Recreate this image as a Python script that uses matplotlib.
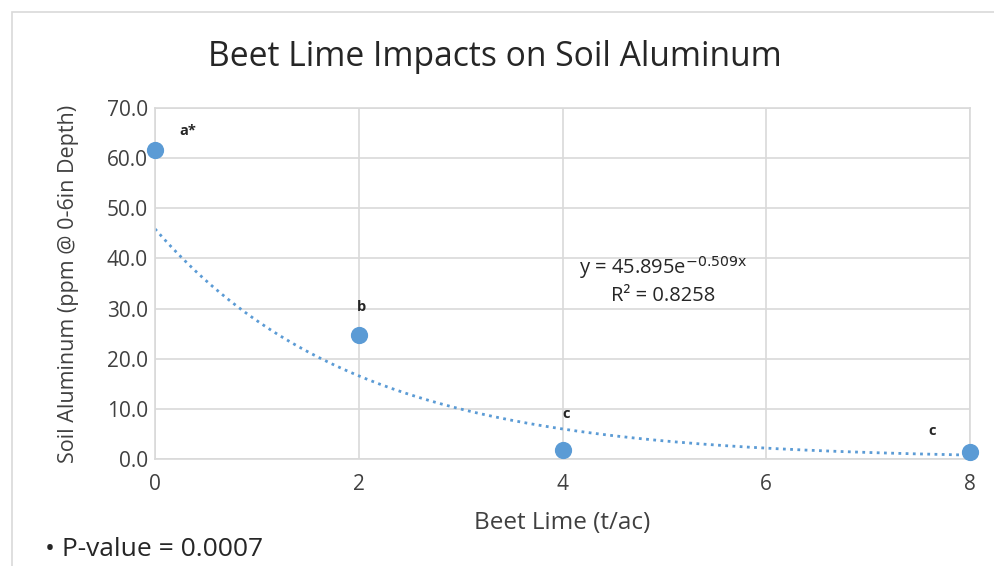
import numpy as np
import matplotlib
matplotlib.use("Agg")
import matplotlib.pyplot as plt
from matplotlib.patches import Rectangle

plt.rcParams['font.family'] = ['Open Sans', 'DejaVu Sans']

lime = [0, 2, 4, 8]
aluminum = [61.7, 24.7, 1.8, 1.3]
letters = ["a*", "b", "c", "c"]
letter_x = [0.32, 2.03, 4.04, 7.63]
letter_y = [65.4, 30.3, 8.9, 5.5]
coef_a = 45.895
coef_b = -0.509
r2 = 0.8258
xticks = [0, 2, 4, 6, 8]
yticks = [0, 10, 20, 30, 40, 50, 60, 70]

fig = plt.figure(figsize=(9.94, 5.66), dpi=100)
fig.patches.append(Rectangle((12/994, -0.1), 1.2, 1 - 12/566 + 0.1, transform=fig.transFigure,
                             fill=False, edgecolor='#d9d9d9', linewidth=1.2))
ax = fig.add_axes([155/994, 1 - 459/566, (970 - 155)/994, (459 - 108)/566])

ax.set_xlim(0, 8)
ax.set_ylim(0, 70)
ax.set_xticks(xticks)
ax.set_yticks(yticks)
ax.set_yticklabels([f"{v:.1f}" for v in yticks])
ax.grid(True, color='#d9d9d9', linewidth=1.2)
ax.set_axisbelow(True)
for s in ax.spines.values():
    s.set_color('#d9d9d9')
    s.set_linewidth(1.2)
ax.tick_params(length=0, labelsize=15, colors='#404040')
ax.tick_params(axis='x', pad=11)
ax.tick_params(axis='y', pad=5)

xs = np.linspace(0, 8, 200)
ax.plot(xs, coef_a * np.exp(coef_b * xs), linestyle=(0, (1, 1.6)), color='#5B9BD5', linewidth=2, zorder=2)
ax.scatter(lime, aluminum, s=130, color='#5B9BD5', zorder=3, clip_on=False)

for t, x, y in zip(letters, letter_x, letter_y):
    ax.text(x, y, t, fontsize=10.5, fontweight='bold', color='#262626', ha='center', va='center')

ax.text(4.99, 38.1, f"y = {coef_a}e$^{{\\mathrm{{{coef_b}x}}}}$", fontsize=14.5, color='#262626', ha='center', va='center')
ax.text(4.99, 32.6, f"R² = {r2}", fontsize=14.5, color='#262626', ha='center', va='center')

ax.set_xlabel("Beet Lime (t/ac)", fontsize=17.5, color='#404040', labelpad=11)
ax.set_ylabel("Soil Aluminum (ppm @ 0-6in Depth)", fontsize=15.5, color='#404040', labelpad=20)
fig.text(495/994, 1 - 57/566, "Beet Lime Impacts on Soil Aluminum", fontsize=24.2, color='#262626',
         ha='center', va='center')
fig.text(45/994, 1 - 550/566, "• P-value = 0.0007", fontsize=19, color='#262626', ha='left', va='center')

fig.savefig("out.png", dpi=100)
